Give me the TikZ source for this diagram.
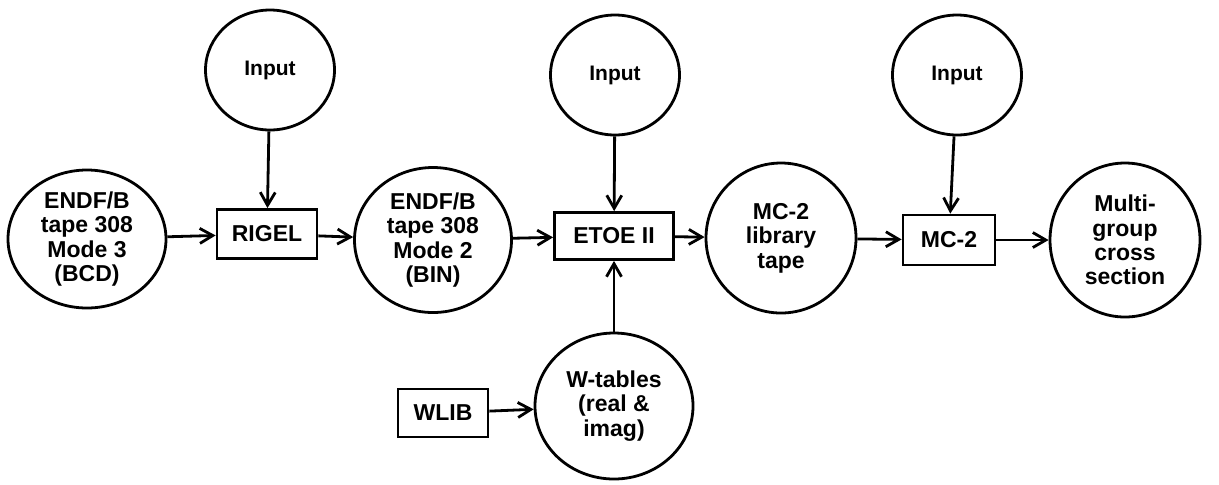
\documentclass[tikz,border=0pt]{standalone}
\usepackage{fontspec}
\setmainfont{Liberation Sans}
\usetikzlibrary{shapes.geometric,arrows.meta}
\begin{document}
\begin{tikzpicture}[x=0.5pt,y=-0.5pt,
  every node/.style={font=\bfseries\fontsize{11.5}{12.2}\selectfont, align=center, inner sep=0pt},
  blob/.style={draw, ellipse, line width=1.4pt},
  inblob/.style={draw, ellipse, line width=1.4pt, minimum width=64.5pt, minimum height=60pt, font=\bfseries\fontsize{10.5}{12}\selectfont},
  prog/.style={draw, rectangle, line width=1.4pt},
  flow/.style={line width=1.4pt, -{Straight Barb[length=6.5pt,width=7.5pt]}}]
\useasboundingbox (0,0) rectangle (1219,484);
% input circles
\node[inblob] (in1) at (270,70) {Input};
\node[inblob] (in2) at (615,75) {Input};
\node[inblob] (in3) at (957,75) {Input};
% main row
\node[blob, minimum width=79pt, minimum height=69pt] (endf3) at (87,239) {ENDF/B\\tape 308\\Mode 3\\(BCD)};
\node[prog, minimum width=50pt, minimum height=24.5pt] (rigel) at (267,234) {RIGEL};
\node[blob, minimum width=78.5pt, minimum height=72.5pt] (endf2) at (433,240) {ENDF/B\\tape 308\\Mode 2\\(BIN)};
\node[prog, minimum width=59.5pt, minimum height=23.5pt] (etoe) at (614,236) {ETOE II};
\node[blob, minimum width=75pt, minimum height=75pt] (lib) at (781,238) {MC-2\\library\\tape};
\node[prog, minimum width=46pt, minimum height=25pt] (mc2) at (949,240) {MC-2};
\node[blob, minimum width=75pt, minimum height=77pt] (multi) at (1125,240) {Multi-\\group\\cross\\section};
% bottom
\node[blob, minimum width=79pt, minimum height=73pt] (wtab) at (614,406) {W-tables\\(real \&\\imag)};
\node[prog, minimum width=45pt, minimum height=24pt] (wlib) at (443,413) {WLIB};
% connectors
\draw[flow] (in1) -- (rigel);
\draw[flow] (in2) -- (etoe);
\draw[flow] (in3) -- (mc2);
\draw[flow] (endf3) -- (rigel);
\draw[flow] (rigel) -- (endf2);
\draw[flow] (endf2) -- (etoe);
\draw[flow] (etoe) -- (lib);
\draw[flow] (lib) -- (mc2);
\draw[flow] (mc2) -- (multi);
\draw[flow] (wtab) -- (etoe);
\draw[flow] (wlib) -- (wtab);
\end{tikzpicture}
\end{document}
